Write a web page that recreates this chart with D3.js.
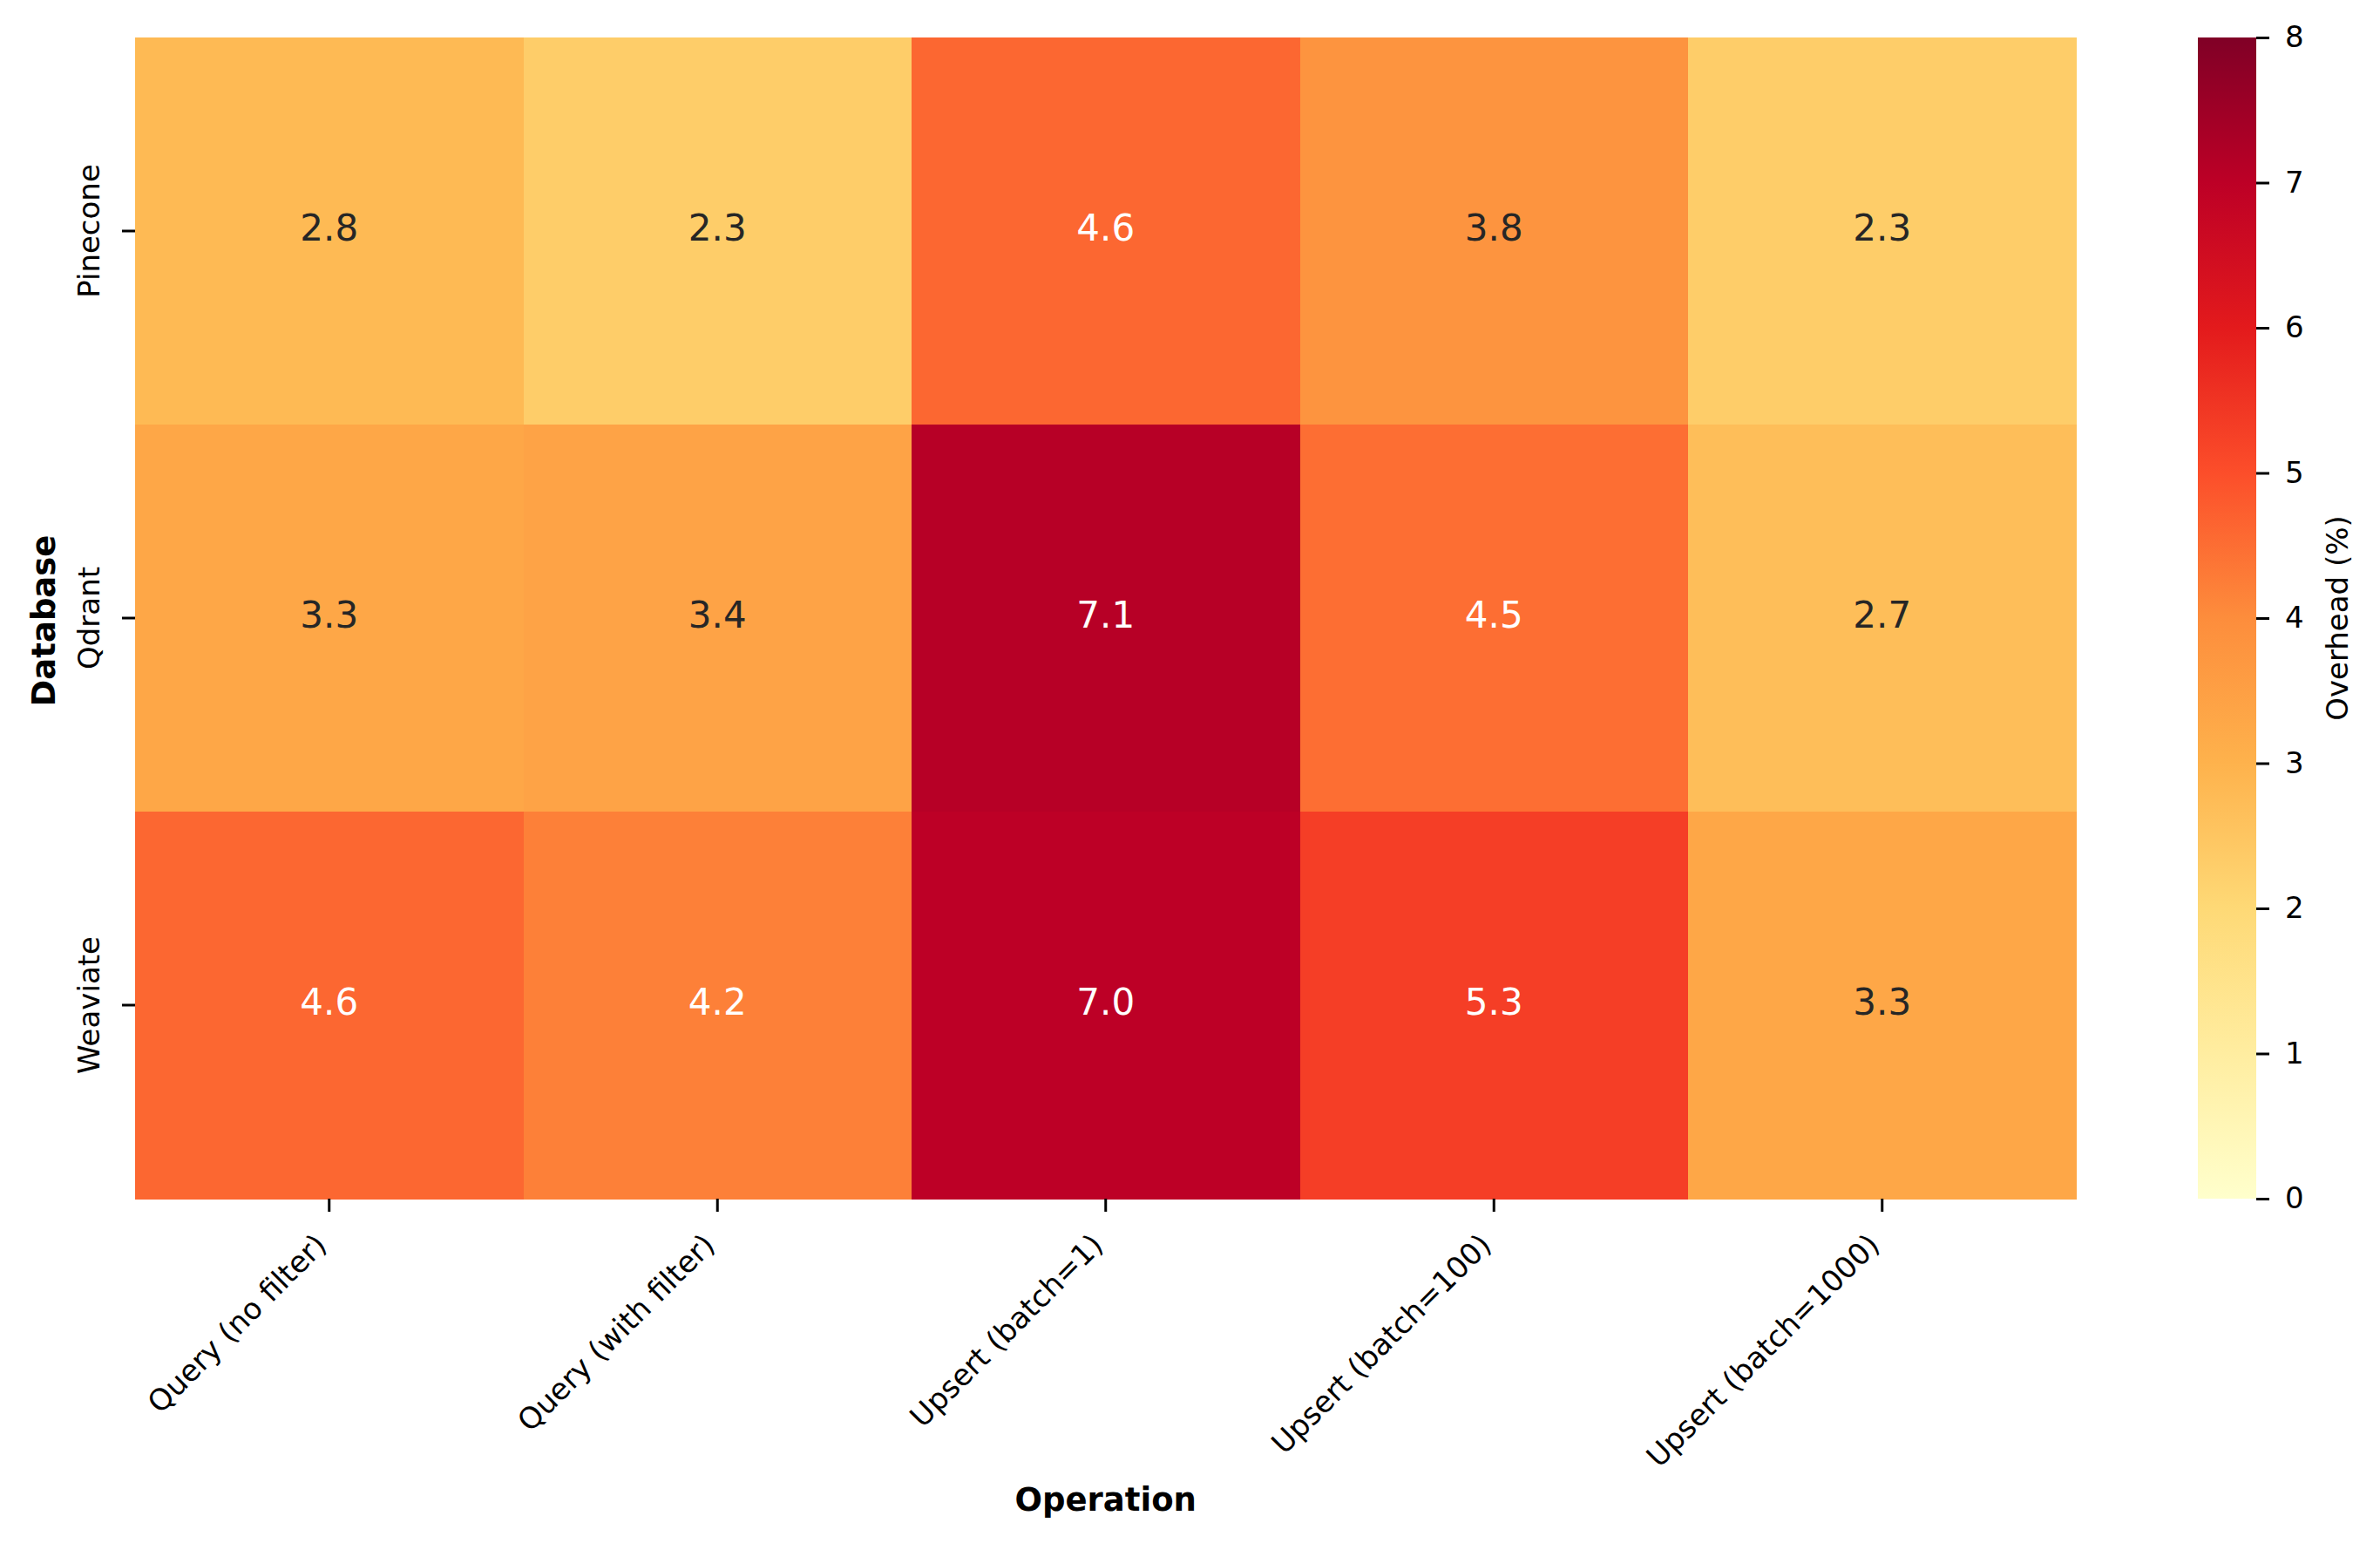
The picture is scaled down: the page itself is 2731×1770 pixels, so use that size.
<!DOCTYPE html>
<html>
<head>
<meta charset="utf-8">
<script src="https://cdn.jsdelivr.net/npm/d3@7/dist/d3.min.js"></script>
<style>
  html, body { margin: 0; padding: 0; background: #ffffff; }
  svg { display: block; }
  text { font-family: "DejaVu Sans", sans-serif; }
</style>
</head>
<body>
<script>
// ---------------- data ----------------
const databases = ["Pinecone", "Qdrant", "Weaviate"];
const operations = ["Query (no filter)", "Query (with filter)", "Upsert (batch=1)", "Upsert (batch=100)", "Upsert (batch=1000)"];
const pineconeOverhead = [2.8, 2.3, 4.6, 3.8, 2.3];
const qdrantOverhead   = [3.3, 3.4, 7.1, 4.5, 2.7];
const weaviateOverhead = [4.6, 4.2, 7.0, 5.3, 3.3];
const colorbarTicks = [0, 1, 2, 3, 4, 5, 6, 7, 8];
const colorRange = [0, 8];
// matplotlib YlOrRd segment colours
const ylOrRd = ["#ffffcc", "#ffeda0", "#fed976", "#feb24c", "#fd8d3c", "#fc4e2a", "#e31a1c", "#bd0026", "#800026"];

const rows = [pineconeOverhead, qdrantOverhead, weaviateOverhead];
const cells = [];
rows.forEach((vals, r) => vals.forEach((v, c) => cells.push({ db: databases[r], op: operations[c], value: v })));

// ---------------- layout ----------------
const W = 2731, H = 1770;
const plot = { left: 155, right: 2382.5, top: 43, bottom: 1375 };
const cbar = { left: 2522, right: 2589 };

const svg = d3.select("body").append("svg").attr("width", W).attr("height", H);
svg.append("rect").attr("width", W).attr("height", H).attr("fill", "#ffffff");

const x = d3.scaleBand().domain(operations).range([plot.left, plot.right]);
const y = d3.scaleBand().domain(databases).range([plot.top, plot.bottom]);
const stops = ylOrRd.map((_, i) => colorRange[0] + i * (colorRange[1] - colorRange[0]) / (ylOrRd.length - 1));
const color = d3.scaleLinear().domain(stops).range(ylOrRd).interpolate(d3.interpolateRgb).clamp(true);

// cells
svg.append("g").selectAll("rect").data(cells).join("rect")
  .attr("x", d => x(d.op))
  .attr("y", d => y(d.db))
  .attr("width", x.bandwidth() + 0.5)
  .attr("height", y.bandwidth() + 0.5)
  .attr("fill", d => color(d.value))
  .attr("shape-rendering", "crispEdges");

// annotation colour (seaborn relative luminance rule)
function luminance(c) {
  const rgb = d3.rgb(c);
  const lin = v => { v /= 255; return v <= 0.03928 ? v / 12.92 : Math.pow((v + 0.055) / 1.055, 2.4); };
  return 0.2126 * lin(rgb.r) + 0.7152 * lin(rgb.g) + 0.0722 * lin(rgb.b);
}
const annotSize = 42;
svg.append("g").selectAll("text").data(cells).join("text")
  .attr("x", d => x(d.op) + x.bandwidth() / 2)
  .attr("y", d => y(d.db) + y.bandwidth() / 2 + annotSize * 0.27)
  .attr("text-anchor", "middle")
  .attr("font-size", annotSize)
  .attr("fill", d => luminance(color(d.value)) > 0.408 ? "#262626" : "#ffffff")
  .text(d => d.value.toFixed(1));

const tickFont = 34;

// x axis
const xAxis = svg.append("g").attr("transform", `translate(0,${plot.bottom})`)
  .call(d3.axisBottom(x).tickSize(15).tickSizeOuter(0));
xAxis.select(".domain").remove();
xAxis.selectAll(".tick line").attr("stroke", "#000").attr("stroke-width", 3);
xAxis.selectAll(".tick text")
  .attr("font-size", tickFont)
  .attr("fill", "#000")
  .attr("text-anchor", "end")
  .attr("x", -1).attr("y", 55).attr("dy", null)
  .attr("transform", "rotate(-45, -1, 55)");

// y axis
const yAxis = svg.append("g").attr("transform", `translate(${plot.left},0)`)
  .call(d3.axisLeft(y).tickSize(15).tickSizeOuter(0));
yAxis.select(".domain").remove();
yAxis.selectAll(".tick line").attr("stroke", "#000").attr("stroke-width", 3);
yAxis.selectAll(".tick text")
  .attr("font-size", tickFont)
  .attr("fill", "#000")
  .attr("text-anchor", "middle")
  .attr("x", 0).attr("y", 0).attr("dy", null)
  .attr("transform", "translate(-41,0) rotate(-90)");

// axis labels
svg.append("text")
  .attr("x", (plot.left + plot.right) / 2)
  .attr("y", 1733)
  .attr("text-anchor", "middle")
  .attr("font-size", 37)
  .attr("font-weight", "bold")
  .attr("fill", "#000")
  .text("Operation");
svg.append("text")
  .attr("transform", `translate(63,${(plot.top + plot.bottom) / 2 + 3}) rotate(-90)`)
  .attr("text-anchor", "middle")
  .attr("font-size", 37)
  .attr("font-weight", "bold")
  .attr("fill", "#000")
  .text("Database");

// colorbar
const defs = svg.append("defs");
const grad = defs.append("linearGradient").attr("id", "cbgrad")
  .attr("x1", "0").attr("y1", "1").attr("x2", "0").attr("y2", "0");
stops.forEach((s, i) => {
  grad.append("stop")
    .attr("offset", (s - colorRange[0]) / (colorRange[1] - colorRange[0]))
    .attr("stop-color", ylOrRd[i]);
});
svg.append("rect")
  .attr("x", cbar.left).attr("y", plot.top)
  .attr("width", cbar.right - cbar.left).attr("height", plot.bottom - plot.top)
  .attr("fill", "url(#cbgrad)");

const cy = d3.scaleLinear().domain(colorRange).range([plot.bottom, plot.top]);
const cAxis = svg.append("g").attr("transform", `translate(${cbar.right},0)`)
  .call(d3.axisRight(cy).tickValues(colorbarTicks).tickFormat(d3.format("d")).tickSize(15).tickPadding(18).tickSizeOuter(0));
cAxis.select(".domain").remove();
cAxis.selectAll(".tick line").attr("stroke", "#000").attr("stroke-width", 3);
cAxis.selectAll(".tick text").attr("font-size", tickFont).attr("fill", "#000");

svg.append("text")
  .attr("transform", `translate(2694,${(plot.top + plot.bottom) / 2}) rotate(-90)`)
  .attr("text-anchor", "middle")
  .attr("font-size", 34)
  .attr("fill", "#000")
  .text("Overhead (%)");
</script>
</body>
</html>
